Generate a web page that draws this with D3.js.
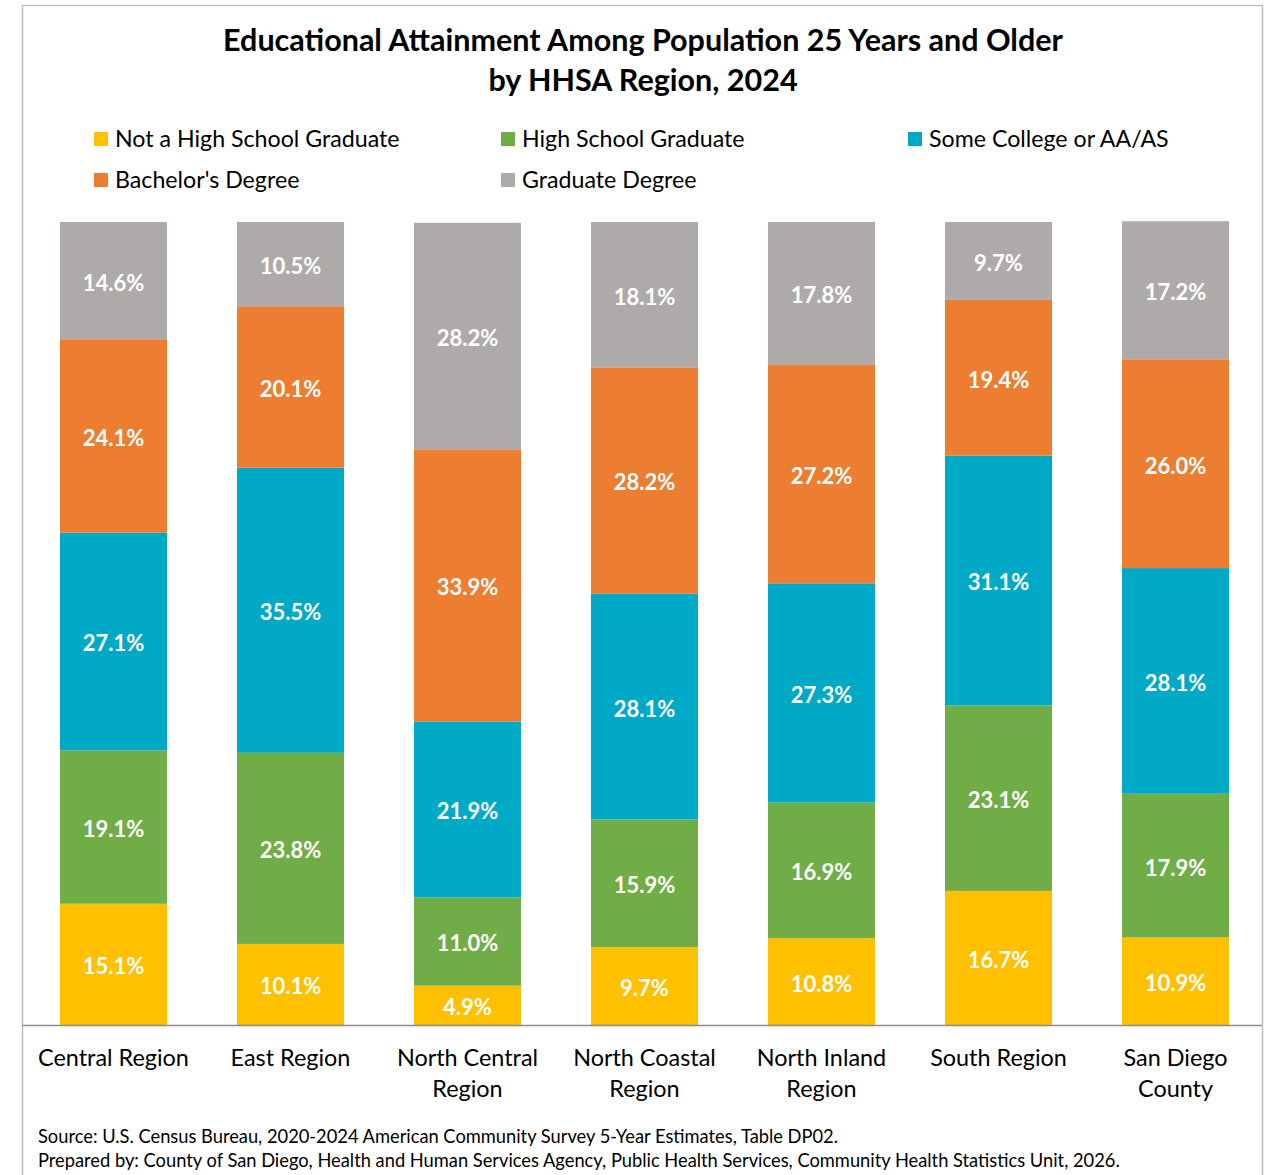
<!DOCTYPE html>
<html>
<head>
<meta charset="utf-8">
<script src="https://cdn.jsdelivr.net/npm/d3@7"></script>
<style>
  body { margin: 0; background: #fff; }
  svg { font-family: Lato, "Open Sans", sans-serif; }
</style>
</head>
<body>
<div id="chart"></div>
<script>
// Regions and education levels
const regions = ['Central Region', 'East Region', 'North Central Region', 'North Coastal Region',
    'North Inland Region', 'South Region', 'San Diego County'];

const levels = ['Not a High School Graduate', 'High School Graduate', 'Some College or AA/AS',
    "Bachelor's Degree", 'Graduate Degree'];

const notHighSchool = [15.1, 10.1, 4.9, 9.7, 10.8, 16.7, 10.9];
const highSchool    = [19.1, 23.8, 11.0, 15.9, 16.9, 23.1, 17.9];
const someCollege   = [27.1, 35.5, 21.9, 28.1, 27.3, 31.1, 28.1];
const bachelors     = [24.1, 20.1, 33.9, 28.2, 27.2, 19.4, 26.0];
const graduate      = [14.6, 10.5, 28.2, 18.1, 17.8, 9.7, 17.2];

const colors = ['#FFC000', '#70AD47', '#00A9C6', '#ED7D31', '#AEAAAA'];

// build table for the stack
const seriesValues = [notHighSchool, highSchool, someCollege, bachelors, graduate];
const table = regions.map((r, i) => {
    const row = {region: r};
    levels.forEach((l, j) => { row[l] = seriesValues[j][i]; });
    return row;
});

const W = 1271, H = 1175;
const svg = d3.select('#chart').append('svg')
    .attr('width', W)
    .attr('height', H);

// chart frame
svg.append('rect')
    .attr('x', 22.5).attr('y', 5.5)
    .attr('width', 1240).attr('height', 1200)
    .attr('fill', 'none')
    .attr('stroke', '#bfbfbf')
    .attr('stroke-width', 1.5);

// Title
const title = svg.append('text')
    .attr('text-anchor', 'middle')
    .style('font-size', '30.5px')
    .style('font-weight', 'bold')
    .attr('fill', '#000');
title.append('tspan').attr('x', 643).attr('y', 51)
    .text('Educational Attainment Among Population 25 Years and Older');
title.append('tspan').attr('x', 643).attr('y', 91)
    .text('by HHSA Region, 2024');

// Legend
const legendPos = [[94, 139], [501, 139], [908, 139], [94, 180], [501, 180]];
const legend = svg.append('g');
levels.forEach((l, i) => {
    const g = legend.append('g')
        .attr('transform', `translate(${legendPos[i][0]},${legendPos[i][1]})`);
    g.append('rect')
        .attr('x', 0).attr('y', -7)
        .attr('width', 14).attr('height', 14)
        .attr('fill', colors[i]);
    g.append('text')
        .attr('x', 21).attr('y', 8)
        .style('font-size', '23.2px')
        .attr('fill', '#000')
        .text(l);
});

// Scales
const x = d3.scaleBand()
    .domain(regions)
    .range([25, 1264])
    .paddingInner(0.395)
    .paddingOuter(0.1975);

const y = d3.scaleLinear()
    .domain([0, 100])
    .range([1025, 222]);

const stack = d3.stack().keys(levels);
const stacked = stack(table);

const bars = svg.append('g');
stacked.forEach((layer, j) => {
    layer.forEach(d => {
        bars.append('rect')
            .attr('x', x(d.data.region))
            .attr('y', y(d[1]))
            .attr('width', x.bandwidth())
            .attr('height', y(d[0]) - y(d[1]))
            .attr('fill', colors[j]);
        bars.append('text')
            .attr('x', x(d.data.region) + x.bandwidth() / 2)
            .attr('y', (y(d[0]) + y(d[1])) / 2)
            .attr('dy', '0.45em')
            .attr('text-anchor', 'middle')
            .style('font-size', '22px')
            .style('font-weight', 'bold')
            .attr('fill', '#fff')
            .text(d.data[layer.key].toFixed(1) + '%');
    });
});

// X axis
const xAxis = svg.append('g')
    .attr('transform', `translate(0,${y(0)})`)
    .call(d3.axisBottom(x).tickSize(0).tickPadding(0));
xAxis.select('.domain')
    .attr('d', 'M22,0.5H1262')
    .attr('stroke', '#8c8c8c')
    .attr('stroke-width', 1.5);
xAxis.selectAll('text').remove();

// wrapped category labels
regions.forEach(r => {
    const words = r.split(' ');
    const lines = words.length > 2 || r === 'San Diego County'
        ? [words.slice(0, words.length - 1).join(' '), words[words.length - 1]]
        : [r];
    const t = svg.append('text')
        .attr('text-anchor', 'middle')
        .style('font-size', '23.4px')
        .attr('fill', '#000');
    lines.forEach((ln, k) => {
        t.append('tspan')
            .attr('x', x(r) + x.bandwidth() / 2)
            .attr('y', 1066 + k * 31)
            .text(ln);
    });
});

// Footnote
const foot = svg.append('text')
    .style('font-size', '18.3px')
    .attr('fill', '#000');
foot.append('tspan').attr('x', 38).attr('y', 1143)
    .text('Source: U.S. Census Bureau, 2020-2024 American Community Survey 5-Year Estimates, Table DP02.');
foot.append('tspan').attr('x', 38).attr('y', 1167)
    .text('Prepared by: County of San Diego, Health and Human Services Agency, Public Health Services, Community Health Statistics Unit, 2026.');
</script>
</body>
</html>
